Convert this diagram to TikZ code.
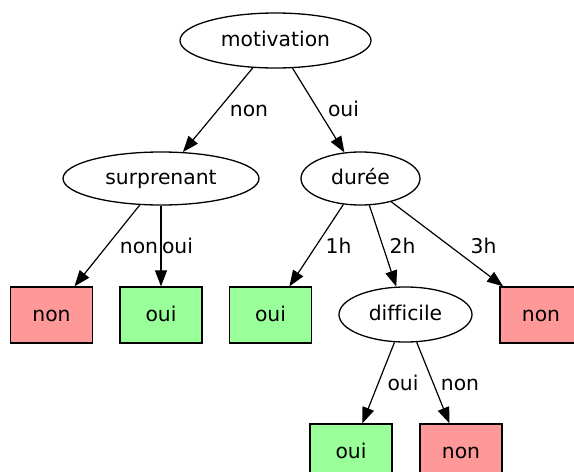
\documentclass[tikz,border=0pt]{standalone}
\usepackage{fontspec}
\setmainfont[Ligatures=NoCommon]{DejaVu Sans}
\usetikzlibrary{shapes.geometric,arrows.meta}
\definecolor{redfill}{HTML}{FF9999}
\definecolor{greenfill}{HTML}{99FF99}
\begin{document}
\begin{tikzpicture}[x=1pt,y=-1pt,
  every node/.style={font=\fontsize{20.3}{24}\selectfont, text height=14pt, text depth=2pt, inner sep=0pt},
  test/.style={ellipse, draw, line width=1.3pt},
  leaf/.style={rectangle, draw, line width=1.3pt, minimum width=82pt, minimum height=56pt},
  yes/.style={leaf, fill=greenfill},
  no/.style={leaf, fill=redfill},
  edge/.style={draw, line width=1.2pt, -{Triangle[length=16pt,width=12pt]}},
  lbl/.style={}]
\clip (0,0) rectangle (574,472);
\fill[white] (0,0) rectangle (574,472);
% nodes
\node[test, minimum width=191pt, minimum height=55pt] (mot) at (275.5,40.5) {motivation};
\node[test, minimum width=196pt, minimum height=53pt] (sur) at (161,178.5) {surprenant};
\node[test, minimum width=119pt, minimum height=53pt] (dur) at (360.5,178.5) {durée};
\node[test, minimum width=133pt, minimum height=55pt] (dif) at (405.5,314.5) {difficile};
\node[no]  (n1) at (51.5,315) {non};
\node[yes] (o1) at (161,315) {oui};
\node[yes] (o2) at (270.5,315) {oui};
\node[no]  (n2) at (541,315) {non};
\node[yes] (o3) at (351,452) {oui};
\node[no]  (n3) at (461,452) {non};
% edges
\draw[edge] (mot) -- (sur);
\draw[edge] (mot) -- (dur);
\draw[edge] (sur) -- (n1);
\draw[edge] (sur) -- (o1);
\draw[edge] (dur) -- (o2);
\draw[edge] (dur) -- (dif);
\draw[edge] (dur) -- (n2);
\draw[edge] (dif) -- (o3);
\draw[edge] (dif) -- (n3);
% labels
\node[lbl] (l1) at (249,110) {non};
\node[lbl] (l2) at (343.5,110) {oui};
\node[lbl] (l3) at (139,247) {non};
\node[lbl] (l4) at (177.5,247) {oui};
\node[lbl] (l5) at (338.5,247) {1h};
\node[lbl] (l6) at (402.5,247) {2h};
\node[lbl] (l7) at (483.5,247) {3h};
\node[lbl] (l8) at (403,384) {oui};
\node[lbl] (l9) at (460,384) {non};
\end{tikzpicture}
\end{document}
